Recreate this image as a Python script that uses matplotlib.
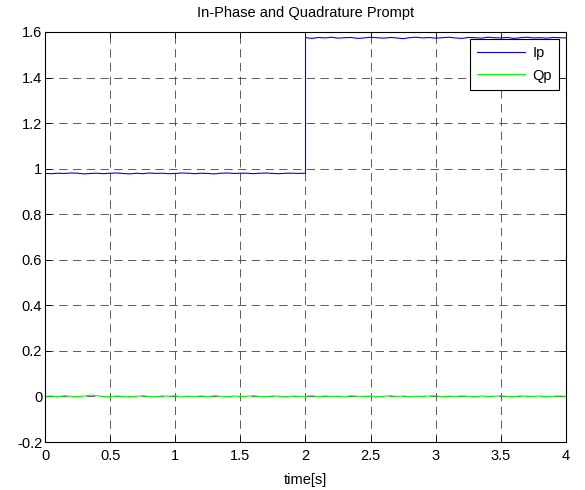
import numpy as np
import matplotlib
matplotlib.use("Agg")
import matplotlib.pyplot as plt

plt.rcParams['font.family'] = ['Liberation Sans', 'DejaVu Sans']

# In-phase prompt before and after the amplitude step at t = 2 s
t_low = np.linspace(0.0, 2.0, 41)
t_high = np.linspace(2.0, 4.0, 41)
ip_low = [0.979, 0.978, 0.980, 0.979, 0.981, 0.980, 0.977, 0.979, 0.980, 0.978,
          0.980, 0.981, 0.979, 0.977, 0.980, 0.978, 0.981, 0.979, 0.980, 0.978,
          0.979, 0.981, 0.980, 0.978, 0.980, 0.979, 0.977, 0.980, 0.981, 0.979,
          0.980, 0.980, 0.978, 0.980, 0.981, 0.979, 0.978, 0.980, 0.980, 0.979,
          0.980]
ip_high = [1.575, 1.572, 1.576, 1.574, 1.577, 1.573, 1.575, 1.576, 1.572, 1.574,
           1.577, 1.575, 1.573, 1.576, 1.574, 1.571, 1.575, 1.577, 1.574, 1.576,
           1.573, 1.575, 1.577, 1.574, 1.572, 1.576, 1.575, 1.573, 1.577, 1.575,
           1.574, 1.576, 1.572, 1.575, 1.577, 1.574, 1.575, 1.573, 1.576, 1.575,
           1.574]

# Quadrature prompt
t_q = np.linspace(0.0, 4.0, 81)
qp = [0.000, 0.002, -0.001, 0.003, 0.001, -0.002, 0.002, 0.006, 0.003, 0.000,
      -0.001, 0.002, 0.000, -0.002, 0.001, 0.003, 0.000, -0.001, 0.002, 0.001,
      0.003, -0.002, 0.001, 0.000, 0.002, -0.001, 0.003, 0.001, -0.001, 0.002,
      0.000, 0.001, 0.003, 0.000, -0.001, 0.002, 0.001, -0.002, 0.002, 0.000,
      0.001, 0.003, -0.001, 0.002, 0.000, 0.001, -0.002, 0.003, 0.001, 0.000,
      0.002, -0.001, 0.001, 0.003, 0.000, 0.002, -0.001, 0.001, 0.000, 0.002,
      0.003, -0.001, 0.001, 0.000, 0.002, 0.001, -0.002, 0.002, 0.000, 0.001,
      0.003, 0.000, -0.001, 0.002, 0.001, 0.000, 0.002, -0.001, 0.001, 0.002,
      0.000]

x_ticks = [0, 0.5, 1, 1.5, 2, 2.5, 3, 3.5, 4]
x_labels = ['0', '0.5', '1', '1.5', '2', '2.5', '3', '3.5', '4']
y_ticks = [-0.2, 0, 0.2, 0.4, 0.6, 0.8, 1.0, 1.2, 1.4, 1.6]
y_labels = ['-0.2', '0', '0.2', '0.4', '0.6', '0.8', '1', '1.2', '1.4', '1.6']

fs = 10.5
fig = plt.figure(figsize=(5.85, 4.90), dpi=100)
ax = fig.add_axes([45 / 585, 1 - 442 / 490, (566 - 45) / 585, (442 - 32) / 490])

t_ip = np.concatenate([t_low, t_high])
ip = np.concatenate([ip_low, ip_high])
ax.plot(t_ip, ip, color='#0000ff', lw=0.8, label='Ip')
ax.plot(t_q, qp, color='#00ff00', lw=0.8, label='Qp')

ax.set_xlim(0, 4)
ax.set_ylim(-0.2, 1.6)
ax.set_xticks(x_ticks)
ax.set_xticklabels(x_labels)
ax.set_yticks(y_ticks)
ax.set_yticklabels(y_labels)
ax.tick_params(direction='in', length=4, width=0.6, labelsize=fs,
               top=True, right=True, colors='black')
ax.tick_params(axis='x', pad=5)
ax.tick_params(axis='y', pad=2)
ax.grid(True, color='#404040', linestyle=(0, (10, 6.5)), linewidth=0.6)
for s in ax.spines.values():
    s.set_linewidth(0.8)
    s.set_color('black')

ax.set_title('In-Phase and Quadrature Prompt', fontsize=fs, pad=10.5)
ax.set_xlabel('time[s]', fontsize=fs, labelpad=7)

leg = ax.legend(loc='upper right', fontsize=fs, fancybox=False, framealpha=1,
                edgecolor='black', borderaxespad=0.45, handlelength=3.3,
                handletextpad=0.5, borderpad=0.5, labelspacing=0.6)
leg.get_frame().set_linewidth(0.8)

fig.savefig('out.png', dpi=100)
